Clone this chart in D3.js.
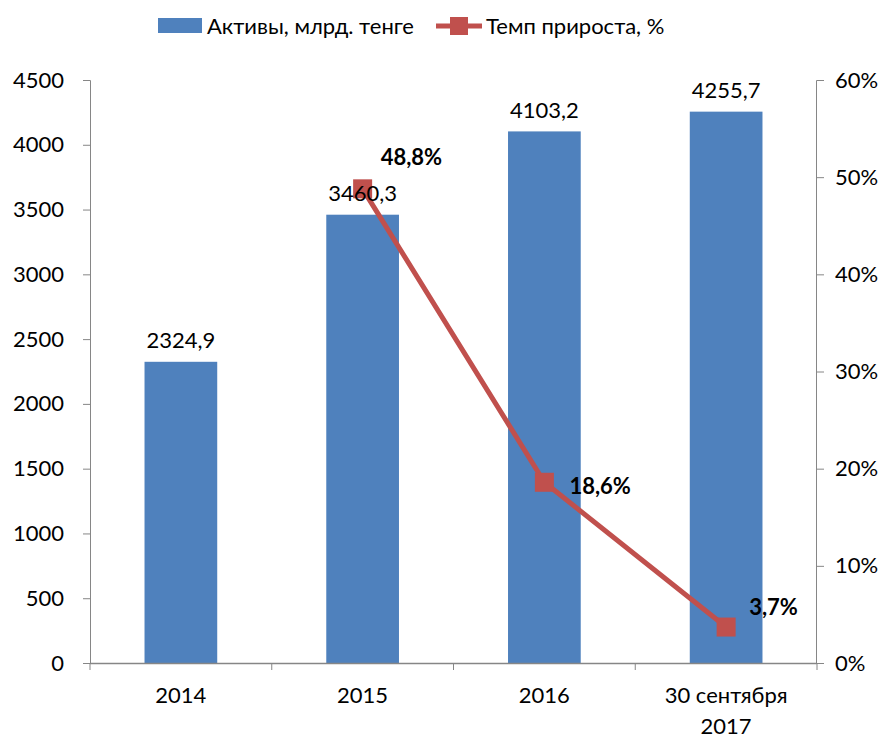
<!DOCTYPE html>
<html>
<head>
<meta charset="utf-8">
<script src="https://cdn.jsdelivr.net/npm/d3@7"></script>
<style>
  body { margin: 0; background: #fff; }
  svg text { font-family: Lato, "Open Sans", sans-serif; fill: #000; }
</style>
</head>
<body>
<div id="chart"></div>
<script>
  // data
  const categories = ["2014", "2015", "2016", "30 сентября\n2017"];
  const assets = [2324.9, 3460.3, 4103.2, 4255.7];
  const growth = [null, 48.8, 18.6, 3.7];
  const leftTicks = [0, 500, 1000, 1500, 2000, 2500, 3000, 3500, 4000, 4500];
  const rightTicks = [0, 10, 20, 30, 40, 50, 60];

  const barColor = "#4F81BD",
        lineColor = "#C0504D",
        axisColor = "#868686";

  // hand placed label offsets for the growth labels (dx, dy from the marker)
  const growthLabelOffset = [null, [18, -32], [25, 4], [23, -20]];

  const width = 888, height = 738;
  const margin = { top: 80, right: 71, bottom: 75, left: 90 };
  const innerW = width - margin.left - margin.right,
        innerH = height - margin.top - margin.bottom;
  const fs = "22px";

  const svg = d3.select("#chart").append("svg")
      .attr("width", width)
      .attr("height", height);

  const g = svg.append("g")
      .attr("transform", `translate(${ margin.left }, ${ margin.top })`);

  const x = d3.scaleBand()
      .domain(categories)
      .range([0, innerW])
      .paddingInner(0.6)
      .paddingOuter(0.3);

  const xOuter = d3.scaleBand().domain(categories).range([0, innerW]);

  const y = d3.scaleLinear().domain([0, 4500]).range([innerH, 0]);
  const y2 = d3.scaleLinear().domain([0, 60]).range([innerH, 0]);

  // bars
  g.selectAll("rect.bar")
    .data(assets)
    .enter().append("rect")
      .attr("class", "bar")
      .attr("x", (d, i) => x(categories[i]))
      .attr("y", (d) => y(d))
      .attr("width", x.bandwidth())
      .attr("height", (d) => innerH - y(d))
      .attr("fill", barColor);

  // left axis
  const yAxis = d3.axisLeft(y).tickValues(leftTicks).tickSize(7).tickPadding(19)
      .tickFormat(d3.format("d"));
  const ya = g.append("g").call(yAxis);
  ya.select(".domain").attr("stroke", axisColor).attr("d", `M-7,0.5H0.5V${ innerH }`);
  ya.selectAll(".tick line").attr("stroke", axisColor);
  ya.selectAll(".tick text").attr("font-size", fs).attr("font-family", null);

  // right axis
  const y2Axis = d3.axisRight(y2).tickValues(rightTicks).tickSize(7).tickPadding(11)
      .tickFormat((d) => d + "%");
  const yb = g.append("g").attr("transform", `translate(${ innerW }, 0)`).call(y2Axis);
  yb.select(".domain").attr("stroke", axisColor).attr("d", `M7,0.5H-0.5V${ innerH }`);
  yb.selectAll(".tick line").attr("stroke", axisColor);
  yb.selectAll(".tick text").attr("font-size", fs).attr("font-family", null);

  // bottom axis
  const xa = g.append("g").attr("transform", `translate(0, ${ innerH })`);
  xa.append("line")
    .attr("x1", 0).attr("x2", innerW)
    .attr("y1", 0.5).attr("y2", 0.5)
    .attr("stroke", axisColor).attr("stroke-width", 1.5);
  xa.selectAll("line.tick")
    .data(d3.range(categories.length + 1))
    .enter().append("line")
      .attr("class", "tick")
      .attr("x1", (i) => i * xOuter.step()).attr("x2", (i) => i * xOuter.step())
      .attr("y1", 0).attr("y2", 7)
      .attr("stroke", axisColor);
  const xl = xa.selectAll("text.cat")
    .data(categories)
    .enter().append("text")
      .attr("class", "cat")
      .attr("x", (d) => xOuter(d) + xOuter.bandwidth() / 2)
      .attr("y", 32)
      .attr("text-anchor", "middle")
      .attr("font-size", fs);
  xl.each(function(d) {
    const parts = d.split("\n");
    d3.select(this).selectAll("tspan")
      .data(parts)
      .enter().append("tspan")
        .attr("x", xOuter(d) + xOuter.bandwidth() / 2)
        .attr("dy", (p, i) => i === 0 ? ".35em" : "31px")
        .text((p) => p);
  });

  // growth line
  const pts = growth.map((v, i) => ({ v: v, c: categories[i], i: i })).filter((d) => d.v !== null);
  const cx = (d) => xOuter(d.c) + xOuter.bandwidth() / 2;

  const line = d3.line()
      .x(cx)
      .y((d) => y2(d.v));

  g.append("path")
    .datum(pts)
    .attr("d", line)
    .attr("fill", "none")
    .attr("stroke", lineColor)
    .attr("stroke-width", 5)
    .attr("stroke-linejoin", "round");

  const ms = 19;
  g.selectAll("rect.marker")
    .data(pts)
    .enter().append("rect")
      .attr("class", "marker")
      .attr("x", (d) => cx(d) - ms / 2)
      .attr("y", (d) => y2(d.v) - ms / 2)
      .attr("width", ms)
      .attr("height", ms)
      .attr("fill", lineColor);

  // value labels go on top of the line
  g.selectAll("text.barlabel")
    .data(assets)
    .enter().append("text")
      .attr("class", "barlabel")
      .attr("x", (d, i) => x(categories[i]) + x.bandwidth() / 2)
      .attr("y", (d) => y(d) - 21)
      .attr("dy", ".35em")
      .attr("text-anchor", "middle")
      .attr("font-size", fs)
      .text((d) => d.toFixed(1).replace(".", ","));

  g.selectAll("text.pct")
    .data(pts)
    .enter().append("text")
      .attr("class", "pct")
      .attr("x", (d) => cx(d) + growthLabelOffset[d.i][0])
      .attr("y", (d) => y2(d.v) + growthLabelOffset[d.i][1])
      .attr("dy", ".35em")
      .attr("font-size", fs)
      .attr("font-weight", "bold")
      .text((d) => d.v.toFixed(1).replace(".", ",") + "%");

  // legend
  const lg = svg.append("g");
  lg.append("rect")
    .attr("x", 158).attr("y", 18)
    .attr("width", 44).attr("height", 15)
    .attr("fill", barColor);
  lg.append("text")
    .attr("x", 207).attr("y", 26).attr("dy", ".35em")
    .attr("font-size", fs)
    .text("Активы, млрд. тенге");
  lg.append("line")
    .attr("x1", 436).attr("x2", 482)
    .attr("y1", 26).attr("y2", 26)
    .attr("stroke", lineColor).attr("stroke-width", 5);
  lg.append("rect")
    .attr("x", 450).attr("y", 17)
    .attr("width", 18).attr("height", 18)
    .attr("fill", lineColor);
  lg.append("text")
    .attr("x", 486).attr("y", 26).attr("dy", ".35em")
    .attr("font-size", fs)
    .text("Темп прироста, %");
</script>
</body>
</html>
